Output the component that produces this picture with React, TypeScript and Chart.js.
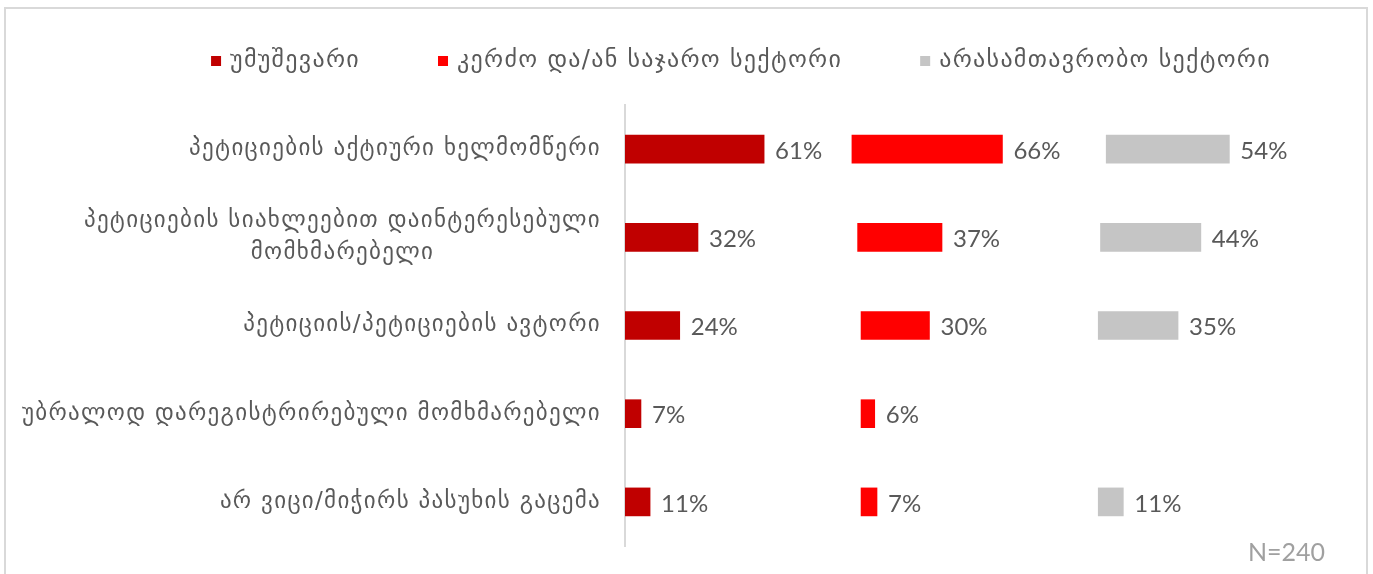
import React, { useEffect, useRef } from 'react';
import { Chart, registerables } from 'chart.js';

Chart.register(...registerables);

// ---- data ----
const categories: string[][] = [
  ['პეტიციების აქტიური ხელმომწერი'],
  ['პეტიციების სიახლეებით დაინტერესებული', 'მომხმარებელი'],
  ['პეტიციის/პეტიციების ავტორი'],
  ['უბრალოდ დარეგისტრირებული მომხმარებელი'],
  ['არ ვიცი/მიჭირს პასუხის გაცემა'],
];
const seriesNames = ['უმუშევარი', 'კერძო და/ან საჯარო სექტორი', 'არასამთავრობო სექტორი'];
const unemployed = [61, 32, 24, 7, 11];
const privatePublic = [66, 37, 30, 6, 7];
const ngo: (number | null)[] = [54, 44, 35, null, 11];
// spacer (invisible) starts of the 2nd and 3rd panels, as in the original stacked chart
const privateStart = [99.5, 102, 103.5, 103.5, 103.5];
const ngoStart = [211, 208.5, 207.5, 207.5, 207.5];
const sampleNote = 'N=240';

const colors = ['#C00000', '#FF0000', '#C5C5C5'];
const textColor = '#595959';
const geoFont = '"DejaVu Sans", "Noto Sans", sans-serif';
const numFont = 'Lato, "Open Sans", sans-serif';

export default function App() {
  const ref = useRef<HTMLCanvasElement>(null);

  useEffect(() => {
    const framePlugin = {
      id: 'frame',
      beforeDraw(chart: any) {
        const ctx = chart.ctx;
        ctx.save();
        ctx.fillStyle = '#ffffff';
        ctx.fillRect(0, 0, chart.width, chart.height);
        ctx.strokeStyle = '#D9D9D9';
        ctx.lineWidth = 2;
        ctx.strokeRect(5, 8, 1362, 600);
        ctx.restore();
      },
    };

    const yLabelPlugin = {
      id: 'yLabels',
      afterDraw(chart: any) {
        const ctx = chart.ctx;
        const ys = chart.scales.y;
        ctx.save();
        ctx.font = `23px ${geoFont}`;
        (ctx as any).letterSpacing = '1.3px';
        ctx.fillStyle = textColor;
        ctx.textAlign = 'center';
        ctx.textBaseline = 'middle';
        const right = ys.right - 24;
        const lineH = 32;
        categories.forEach((lines, i) => {
          const cy = ys.getPixelForValue(i);
          const blockW = Math.max(...lines.map((l) => ctx.measureText(l).width));
          const cx = right - blockW / 2;
          const y0 = cy - ((lines.length - 1) * lineH) / 2;
          lines.forEach((l, k) => ctx.fillText(l, cx, y0 + k * lineH));
        });
        ctx.restore();
      },
    };

    const valuePlugin = {
      id: 'values',
      afterDatasetsDraw(chart: any) {
        const ctx = chart.ctx;
        ctx.save();
        ctx.font = `24px ${numFont}`;
        ctx.fillStyle = textColor;
        ctx.textAlign = 'left';
        ctx.textBaseline = 'middle';
        const values = [unemployed, privatePublic, ngo];
        chart.data.datasets.forEach((_: any, di: number) => {
          const meta = chart.getDatasetMeta(di);
          meta.data.forEach((el: any, i: number) => {
            const v = values[di][i];
            if (v == null) return;
            ctx.fillText(`${v}%`, el.x + 11, el.y + 2);
          });
        });
        ctx.restore();
      },
    };

    const legendPlugin = {
      id: 'customLegend',
      afterDraw(chart: any) {
        const ctx = chart.ctx;
        ctx.save();
        ctx.font = `24px ${geoFont}`;
        (ctx as any).letterSpacing = '1.3px';
        ctx.textBaseline = 'middle';
        ctx.textAlign = 'left';
        const box = 10;
        const boxGap = 9;
        const itemGap = 78;
        const widths = seriesNames.map((n) => box + boxGap + ctx.measureText(n).width);
        const total = widths.reduce((a, b) => a + b, 0) + itemGap * (widths.length - 1);
        let x = 741 - total / 2;
        const y = 61;
        seriesNames.forEach((n, i) => {
          ctx.fillStyle = colors[i];
          ctx.fillRect(x, y - box / 2, box, box);
          ctx.fillStyle = textColor;
          ctx.fillText(n, x + box + boxGap, y);
          x += widths[i] + itemGap;
        });
        ctx.restore();
      },
    };

    const notePlugin = {
      id: 'note',
      afterDraw(chart: any) {
        const ctx = chart.ctx;
        ctx.save();
        ctx.font = `25px ${numFont}`;
        ctx.fillStyle = '#A0A0A0';
        ctx.textAlign = 'right';
        ctx.textBaseline = 'middle';
        ctx.fillText(sampleNote, 1325, 553);
        ctx.restore();
      },
    };

    const chart = new Chart(ref.current as HTMLCanvasElement, {
      type: 'bar',
      data: {
        labels: categories.map((c) => c.join(' ')),
        datasets: [
          {
            label: seriesNames[0],
            data: unemployed.map((v) => [0, v]) as any,
            backgroundColor: colors[0],
          },
          {
            label: seriesNames[1],
            data: privatePublic.map((v, i) => [privateStart[i], privateStart[i] + v]) as any,
            backgroundColor: colors[1],
          },
          {
            label: seriesNames[2],
            data: ngo.map((v, i) => (v == null ? null : [ngoStart[i], ngoStart[i] + v])) as any,
            backgroundColor: colors[2],
          },
        ],
      },
      options: {
        indexAxis: 'y',
        responsive: false,
        animation: false,
        layout: { padding: { left: 0, right: 41, top: 105, bottom: 28 } },
        datasets: { bar: { barThickness: 28, grouped: false } as any },
        scales: {
          x: { display: false, min: 0, max: 310 },
          y: {
            grid: { display: false },
            border: { color: '#D9D9D9', width: 2 },
            ticks: { display: false },
            afterFit(s: any) {
              s.width = 625;
            },
          },
        },
        plugins: {
          legend: { display: false },
          tooltip: { enabled: false },
        },
      },
      plugins: [framePlugin, yLabelPlugin, valuePlugin, legendPlugin, notePlugin],
    });
    return () => chart.destroy();
  }, []);

  return (
    <div style={{ position: 'absolute', left: 0, top: 0, width: 1373, height: 574, background: '#fff' }}>
      <canvas ref={ref} width={1373} height={574} style={{ display: 'block' }} />
    </div>
  );
}
